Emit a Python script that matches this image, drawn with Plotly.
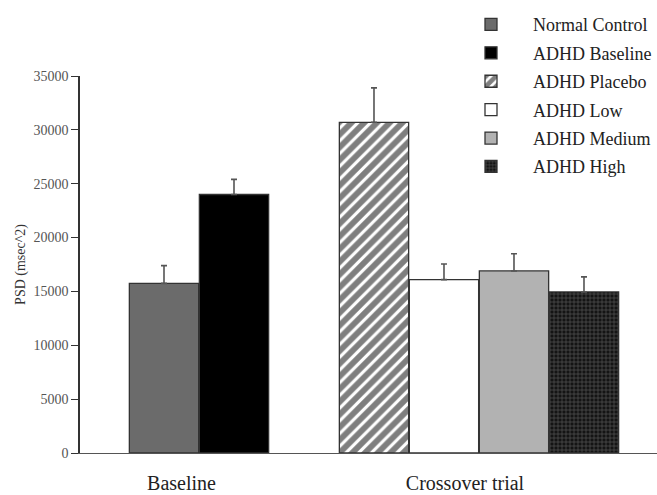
import plotly.graph_objects as go

series_names = ["Normal Control", "ADHD Baseline", "ADHD Placebo", "ADHD Low", "ADHD Medium", "ADHD High"]
psd_values = [15750, 24000, 30700, 16100, 16900, 14950]
psd_errors = [1650, 1400, 3200, 1450, 1600, 1400]
group_labels = ["Baseline", "Crossover trial"]
y_ticks = [0, 5000, 10000, 15000, 20000, 25000, 30000, 35000]

# layout: slot index of each bar (gap slot between the two groups)
slots = [0, 1, 3, 4, 5, 6]
slot_offset = 1.2
label_pos = [1.45, 5.5]

styles = [
    dict(color="#6b6b6b"),
    dict(color="#000000"),
    dict(color="#ffffff", pattern=dict(shape="/", fgcolor="#000000", bgcolor="#ffffff", size=9, solidity=0.65)),
    dict(color="#ffffff"),
    dict(color="#b2b2b2"),
    dict(color="#222222", pattern=dict(shape="+", fgcolor="#9a9a9a", bgcolor="#141414", size=4, solidity=0.3)),
]

fig = go.Figure()
for i, name in enumerate(series_names):
    fig.add_trace(go.Bar(
        x=[slots[i] + slot_offset], y=[psd_values[i]], name=name, width=0.99,
        legendgroup=name,
        marker=dict(**styles[i], line=dict(color="#333333", width=1.3)),
        error_y=dict(type="data", array=[psd_errors[i]], arrayminus=[0], symmetric=False,
                     color="#555555", thickness=1.6, width=3),
    ))

serif = "Liberation Serif"
fig.update_layout(
    width=657, height=495,
    margin=dict(l=80, r=0, t=76, b=42),
    paper_bgcolor="white", plot_bgcolor="white",
    font=dict(family=serif, color="#222222"),
    showlegend=True,
    legend=dict(x=0.64, y=1.185, xanchor="left", yanchor="top",
                font=dict(family=serif, size=18, color="#222222"),
                itemwidth=74, tracegroupgap=2, bgcolor="rgba(0,0,0,0)"),
    xaxis=dict(range=[0, 8.243], tickvals=label_pos, ticktext=group_labels, ticks="",
               showline=True, linecolor="#555555", linewidth=1.3, showgrid=False, zeroline=False,
               tickfont=dict(family=serif, size=20, color="#222222"), ticklabelstandoff=12),
    yaxis=dict(range=[0, 35000], tickvals=y_ticks, tickformat="d", ticks="outside", ticklen=7,
               tickcolor="#333333",
               showline=True, linecolor="#333333", linewidth=1.5, showgrid=False, zeroline=False,
               tickfont=dict(family=serif, size=14, color="#555555"),
               title=dict(text="PSD (msec^2)", font=dict(family=serif, size=14, color="#333333"), standoff=5)),
)

fig.write_html("out.html")
